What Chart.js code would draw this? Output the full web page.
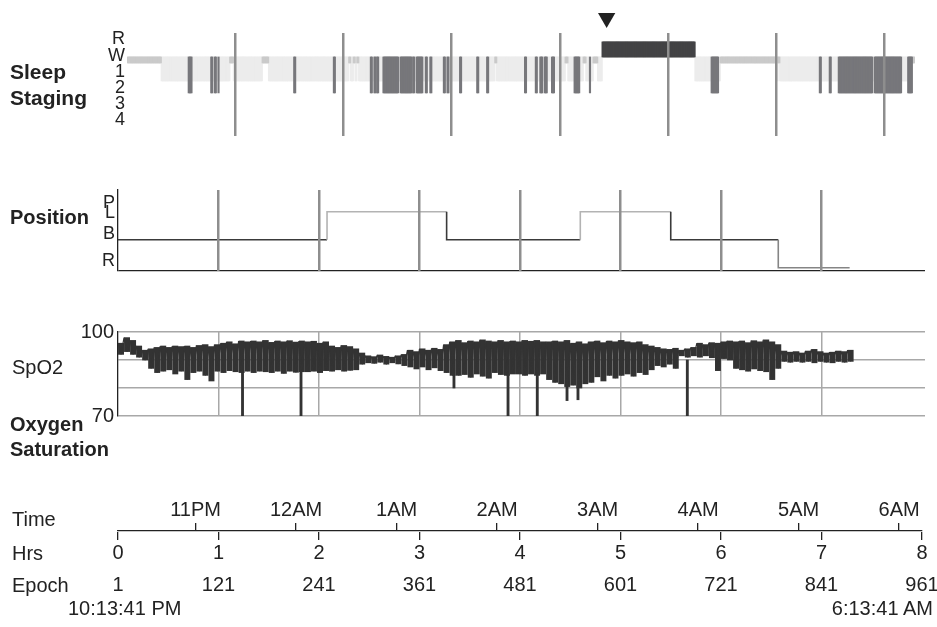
<!DOCTYPE html>
<html><head><meta charset="utf-8">
<script src="https://cdn.jsdelivr.net/npm/chart.js@4.4.1/dist/chart.umd.min.js"></script>
<style>
body{margin:0;background:#fff;width:937px;height:627px;overflow:hidden;position:relative;font-family:"Liberation Sans",Arial,sans-serif;color:#222}
canvas{position:absolute;left:0}
.lbl{position:absolute;font-size:20px;line-height:24px;white-space:nowrap}
.b{font-weight:bold}
</style></head><body>
<canvas id="cStage" width="937" height="150" style="top:0"></canvas>
<canvas id="cPos" width="937" height="140" style="top:150px"></canvas>
<canvas id="cSpo2" width="937" height="160" style="top:290px"></canvas>
<canvas id="cTime" width="937" height="147" style="top:480px"></canvas>

<div class="lbl b" style="left:10px;top:60px;font-size:21px">Sleep</div>
<div class="lbl b" style="left:10px;top:86px;font-size:21px">Staging</div>
<div class="lbl b" style="left:10px;top:205px">Position</div>
<div class="lbl" style="left:12px;top:355px">SpO2</div>
<div class="lbl b" style="left:10px;top:412px">Oxygen</div>
<div class="lbl b" style="left:10px;top:437px">Saturation</div>
<div class="lbl" style="left:12px;top:507px">Time</div>
<div class="lbl" style="left:12px;top:541px">Hrs</div>
<div class="lbl" style="left:12px;top:573px">Epoch</div>
<div class="lbl" id="tStart" style="left:68px;top:596px"></div>
<div class="lbl" id="tEnd" style="right:4px;top:596px"></div>

<script>
// ---------------- data ----------------
const EPOCHS_PER_HOUR = 120;
const stageLabels = ['R','W','1','2','3','4'];
// hypnogram segments: [end epoch (exclusive), stage]
const hypnogram = [
 [38,'W'],[68,'1'],[72,'2'],[93,'1'],[95,'2'],[97,'1'],[99,'2'],[101,'1'],[102,'2'],[114,'1'],
 [118,'W'],[150,'1'],[157,'W'],[185,'1'],[187,'2'],[229,'1'],[231,'2'],[246,'1'],[248,'W'],[251,'1'],
 [253,'W'],[255,'1'],[257,'W'],[270,'1'],[272,'2'],[274,'1'],[276,'2'],[277,'1'],[279,'2'],[284,'1'],
 [301,'2'],[303,'1'],[316,'2'],[317,'1'],[319,'2'],[321,'1'],[328,'2'],[331,'1'],[333,'2'],[336,'1'],
 [338,'2'],[351,'1'],[353,'2'],[355,'1'],[357,'2'],[369,'1'],[371,'2'],[388,'1'],[390,'2'],[399,'1'],
 [401,'2'],[408,'1'],[410,'W'],[441,'1'],[443,'2'],[453,'1'],[455,'2'],[458,'1'],[461,'2'],[463,'1'],
 [466,'2'],[471,'1'],[474,'2'],[486,'1'],[489,'W'],[496,'1'],[502,'2'],[506,'1'],[509,'W'],[513,'1'],
 [514,'2'],[517,'1'],[522,'W'],[527,'1'],[630,'R'],[648,'1'],[656,'2'],[658,'1'],[720,'W'],[722,'1'],
 [724,'W'],[768,'1'],[770,'2'],[779,'1'],[781,'2'],[789,'1'],[827,'2'],[829,'1'],[859,'2'],[866,'1'],
 [871,'2'],[874,'W']
];
const markerEpoch = [532];
const hourGrid = [1,2,3,4,5,6,7];

const positionLabels = ['R','B','L','P'];
const positionEndHr = [2.08, 3.27, 4.60, 5.50, 6.57, 7.28];
const positionState = ['B','L','B','L','B','R'];

const spo2GridValues = [70,80,90,100];
const spo2TickLabels = [70,100];
const spo2StepHr = 0.06;   // one column of the SpO2 trace every 0.06 h
const spo2High = [
 96,98,97,95,93.5,94,94.5,95,94.5,95, 94.8,95,94.5,95.2,95.5,94.8,95.5,96,96.5,95.8,
 96.8,96.5,96.8,96.5,97,96.3,96.8,96.5,96.9,96.4, 96.8,96.5,96.7,96,96.5,95,94.5,95.2,94.8,94,
 92.5,91.5,91.2,91.8,91.3,91,91.5,92,93.5,93, 94,93.5,94.2,93.8,95.5,96.5,97,96.2,96.8,96.5,
 97.2,96.8,96.5,97,96.5,96.8,96.5,97,96.7,97, 96.5,96.5,96.8,96.5,97,96,96.5,95.8,96.5,96.8,
 96.2,96.8,96.5,97,96.5,96.2,96.5,95.5,95,94.5, 94,93.8,94.2,93.5,94,94.5,96,95.5,96.2,96,
 96.5,96.8,96.5,96.8,96.2,96.9,96.5,97.2,96.5,95.5, 93.2,92.8,93,92.5,93.2,93.8,93,92.5,92.8,93.2,
 93,93.5
];
const spo2Low = [
 92,93,92,91,90,87,85.5,86,86.5,85, 86,83,85.5,86,84.5,82.5,86,85.5,86.2,85.8,
 85.5,86,85.5,86,85.8,85.5,86,85.2,86,85.6, 85.8,85.8,86,85.5,86.2,86,86.5,86,86.3,86.5,
 88.5,89,88.8,89.2,88.5,89,88.6,88,87.5,86.8, 87.5,86.5,87.2,86.2,85.5,84.5,84.5,84.8,83.8,85,
 84.2,83.5,85.5,84.8,84.5,85,85,84.5,85,84.5, 85,83,82,81.5,80.5,81,80,81.5,82,84,
 82.5,84.5,83.5,84.5,85,84.2,85.5,84.8,86.5,88, 87.5,88.5,87,91.5,91,91.5,91,91.5,90.8,86.2,
 90.5,90,87,86.5,86,86.8,86.2,85.8,83,87, 89.5,89.2,89.5,89.2,89.5,89,89.5,89.2,89,89.5,
 89.2,89.5
];
// brief desaturation dips: time (h) and lowest value
const spo2DipHr  = [1.239, 1.821, 3.343, 3.881, 4.172, 4.468, 4.577, 5.665];
const spo2DipVal = [70, 70, 80, 70, 70, 75.5, 75.8, 70];

const startTime = '10:13:41 PM';
const endTime = '6:13:41 AM';
const startMinutes = 13 + 41/60;           // minutes past the hour at start
const timeLabels = ['11PM','12AM','1AM','2AM','3AM','4AM','5AM','6AM'];
const hrsLabels = ['0','1','2','3','4','5','6','7','8'];
const epochLabels = [1,121,241,361,481,601,721,841,961];

// ---------------- styles ----------------
Chart.defaults.font.family = '"Liberation Sans", Arial, sans-serif';
Chart.defaults.color = '#222';
const base = {responsive:false, animation:false, devicePixelRatio:1, events:[],
  plugins:{legend:{display:false}, tooltip:{enabled:false}}};
const noPad = s => { s.paddingLeft = 0; s.paddingRight = 0; };

const stageColor = {W:'#cacaca','1':'#ececec','2':'#77777b',R:'#434345'};
const stageSpan  = {W:[1.08,1.45],'1':[1.08,2.56],'2':[1.08,3.30],R:[0.15,1.08]};
const stageOrder = {'2':0,R:0,W:1,'1':2};
const perStage = {W:[],'1':[],'2':[],R:[]};
let st = 0;
for (const [end, s] of hypnogram) {
  for (let e = st; e < end; e++) perStage[s].push({x:(e+0.5)/EPOCHS_PER_HOUR, y:stageSpan[s]});
  st = end;
}
const totalEpochs = hypnogram[hypnogram.length-1][0];

new Chart(document.getElementById('cStage'), {
  type:'bar',
  data:{datasets:[
    ...['2','R','W','1'].map(s => ({label:s, data:perStage[s], backgroundColor:stageColor[s],
        borderWidth:0, barThickness:1.5, grouped:false, order:stageOrder[s]})),
    {type:'line', data:markerEpoch.map(e => ({x:e/EPOCHS_PER_HOUR, y:-1.33})), showLine:false,
     pointStyle:'triangle', rotation:180, pointRadius:10, pointHoverRadius:30, pointBorderWidth:0,
     pointBackgroundColor:'#222', clip:false, order:-1}
  ]},
  options:{...base,
    layout:{autoPadding:false, padding:{left:0, top:33, right:22, bottom:14}},
    scales:{
      x:{type:'linear', min:0, max:totalEpochs/EPOCHS_PER_HOUR, offset:false,
         grid:{offset:false, color:'#8e8e8e', lineWidth:2.5, z:1, drawTicks:false},
         border:{display:false}, ticks:{display:false},
         afterBuildTicks:s => { s.ticks = hourGrid.map(v => ({value:v})); },
         afterFit:s => { s.height = 0; noPad(s); }},
      y:{reverse:true, min:-0.4, max:5.96, grid:{display:false, drawTicks:false}, border:{display:false},
         ticks:{padding:2, autoSkip:false, font:{size:18}, callback:(v,i) => stageLabels[i]},
         afterBuildTicks:s => { s.ticks = stageLabels.map((l,i) => ({value:i})); },
         afterFit:s => { s.width = 127; }}
    }}
});

// ---------------- position ----------------
const posColor = {B:'#3a3a3a', L:'#b3b3b3', R:'#858585', P:'#666666'};
const posMin = -0.118;
const posLabelAt = [0.24, 1.2, 1.95, 2.31];
const posPoints = [{x:0, y:positionLabels.indexOf(positionState[0])}]
  .concat(positionEndHr.map((h,i) => ({x:h, y:positionLabels.indexOf(positionState[i])})));

new Chart(document.getElementById('cPos'), {
  type:'line',
  data:{datasets:[{data:posPoints, stepped:'after', borderWidth:1.6, pointRadius:0,
    borderColor:'#3a3a3a', segment:{borderColor:ctx => posColor[positionLabels[ctx.p1.parsed.y]]}}]},
  options:{...base,
    layout:{autoPadding:false, padding:{left:0, top:40, right:12, bottom:19}},
    scales:{
      x:{type:'linear', min:0, max:8.03,
         grid:{color:'#8e8e8e', lineWidth:2.5, z:1, drawTicks:false},
         border:{display:false}, ticks:{display:false},
         afterBuildTicks:s => { s.ticks = hourGrid.map(v => ({value:v})); },
         afterFit:s => { s.height = 0; noPad(s); }},
      y:{min:posMin, max:2.775,
         grid:{drawTicks:false, lineWidth:1.3, color:ctx => ctx.index === 0 ? '#222' : 'rgba(0,0,0,0)'},
         border:{display:true, color:'#222', width:1.3},
         ticks:{padding:3, autoSkip:false, font:{size:18}, callback:(v,i) => i === 0 ? '' : positionLabels[i-1]},
         afterBuildTicks:s => { s.ticks = [{value:posMin}].concat(posLabelAt.map(v => ({value:v}))); },
         afterFit:s => { s.width = 118; }}
    }}
});

// ---------------- SpO2 ----------------
const spo2Cols = spo2High.map((h,k) => ({x:(k+0.5)*spo2StepHr, y:[spo2Low[k], h]}));
const spo2Trace = [];
spo2High.forEach((h,k) => {
  spo2Trace.push({x:k*spo2StepHr, y:h});
  spo2Trace.push({x:(k+0.5)*spo2StepHr, y:spo2Low[k]});
});
const spo2Dips = spo2DipHr.map((h,i) => ({x:h, y:[spo2DipVal[i], 90]}));

new Chart(document.getElementById('cSpo2'), {
  type:'bar',
  data:{datasets:[
    {type:'line', data:spo2Trace, borderColor:'#333', borderWidth:1.2, pointRadius:0,
     borderJoinStyle:'bevel', tension:0, order:0},
    {data:spo2Dips, backgroundColor:'#333', borderWidth:0, barThickness:2.2, grouped:false, order:1},
    {data:spo2Cols, backgroundColor:'#333', borderWidth:0, barThickness:5.3, grouped:false, order:2}
  ]},
  options:{...base,
    layout:{autoPadding:false, padding:{left:0, top:42, right:12, bottom:34}},
    scales:{
      x:{type:'linear', min:0, max:8.03, offset:false,
         grid:{offset:false, color:'#a8a8a8', lineWidth:1.5, drawTicks:false},
         border:{display:false}, ticks:{display:false},
         afterBuildTicks:s => { s.ticks = hourGrid.map(v => ({value:v})); },
         afterFit:s => { s.height = 0; noPad(s); }},
      y:{min:70, max:100, grid:{color:'#a8a8a8', lineWidth:1.5, drawTicks:false},
         border:{display:true, color:'#222', width:1.3},
         ticks:{padding:4, autoSkip:false, font:{size:20},
                callback:v => spo2TickLabels.includes(v) ? String(v) : ''},
         afterBuildTicks:s => { s.ticks = spo2GridValues.map(v => ({value:v})); },
         afterFit:s => { s.width = 118; }}
    }}
});

// ---------------- time axes ----------------
const firstHourOffset = (60 - startMinutes) / 60;
new Chart(document.getElementById('cTime'), {
  type:'line',
  data:{datasets:[{data:[], xAxisID:'xHrs', yAxisID:'y'}]},
  options:{...base,
    layout:{autoPadding:false, padding:{left:118, top:0, right:15, bottom:30}},
    scales:{
      xTime:{type:'linear', axis:'x', position:'top', min:0, max:8,
        grid:{drawOnChartArea:false, drawTicks:true, tickLength:8, color:'#222', lineWidth:1.3},
        border:{display:true, color:'#222', width:1.3},
        ticks:{padding:1, autoSkip:false, maxRotation:0, font:{size:20}, callback:(v,i) => timeLabels[i]},
        afterBuildTicks:s => { s.ticks = timeLabels.map((l,i) => ({value:firstHourOffset + i})); },
        afterFit:s => { s.height = 51; noPad(s); }},
      xHrs:{type:'linear', axis:'x', position:'bottom', min:0, max:8, weight:0,
        grid:{drawOnChartArea:false, drawTicks:true, tickLength:8, color:'#222', lineWidth:1.3},
        border:{display:false},
        ticks:{padding:1, autoSkip:false, maxRotation:0, font:{size:20}, callback:(v,i) => hrsLabels[i]},
        afterBuildTicks:s => { s.ticks = hrsLabels.map((l,i) => ({value:i})); },
        afterFit:s => { s.height = 33; noPad(s); }},
      xEpoch:{type:'linear', axis:'x', position:'bottom', min:0, max:8, weight:1,
        grid:{display:false, drawTicks:false}, border:{display:false},
        ticks:{padding:8, autoSkip:false, maxRotation:0, font:{size:20}, callback:(v,i) => String(epochLabels[i])},
        afterBuildTicks:s => { s.ticks = epochLabels.map(e => ({value:(e-1)/EPOCHS_PER_HOUR})); },
        afterFit:s => { s.height = 32; noPad(s); }},
      y:{display:false, min:0, max:1}
    }}
});
document.getElementById('tStart').textContent = startTime;
document.getElementById('tEnd').textContent = endTime;
</script>
</body></html>
